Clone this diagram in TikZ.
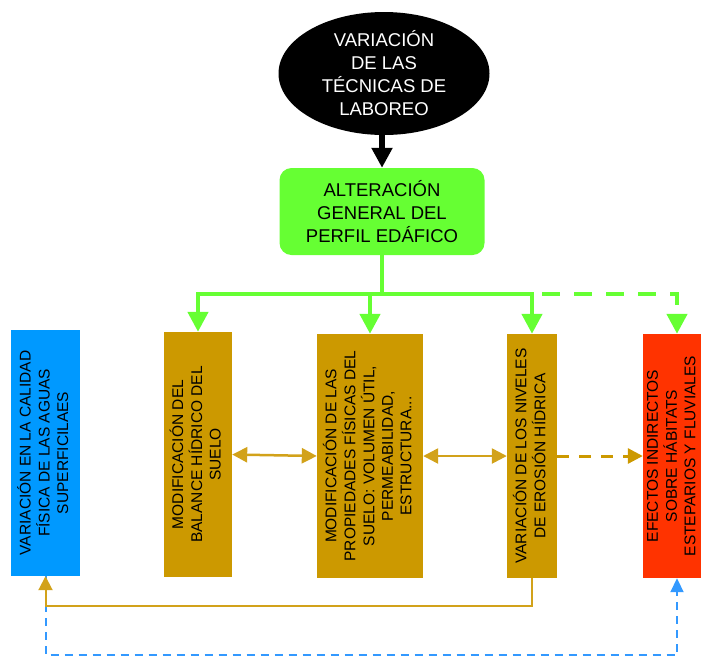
\documentclass[tikz,border=0pt]{standalone}
\usepackage{fontspec}
\setmainfont{Liberation Sans}
\usetikzlibrary{shapes.geometric,arrows.meta}

\definecolor{leaf}{HTML}{66FF33}
\definecolor{ochre}{HTML}{CC9900}
\definecolor{ochreline}{HTML}{D2A21A}
\definecolor{sky}{HTML}{0099FF}
\definecolor{skyline}{HTML}{3399FF}
\definecolor{flame}{HTML}{FF3300}

\tikzset{
  bigtxt/.style={font=\fontsize{18.5}{23}\selectfont, align=center},
  vbox/.style={inner sep=0pt, font=\fontsize{15.5}{18.5}\selectfont},
  gline/.style={draw=leaf, line width=4.5pt},
  gtip/.style={-{Triangle[width=20pt,length=20pt]}},
  bline/.style={draw=ochreline, line width=2.5pt},
  btip/.style={{Triangle[width=15pt,length=15pt]}-{Triangle[width=15pt,length=15pt]}},
  sline/.style={draw=skyline, line width=2pt, dash pattern=on 8pt off 6pt},
}

\newcommand{\vtext}[1]{\rotatebox{90}{\begin{tabular}{@{}c@{}}#1\end{tabular}}}

\begin{document}
\begin{tikzpicture}[x=1pt,y=-1pt]
  \clip (0,0) rectangle (701,657);

  % top of the chain
  \node[ellipse, fill=black, text=white, bigtxt, inner sep=0pt,
        minimum width=211pt, minimum height=123pt] (lab) at (384,73.5)
        {VARIACIÓN\\DE LAS\\TÉCNICAS DE\\LABOREO};
  \node[fill=leaf, rounded corners=12pt, bigtxt, inner sep=0pt,
        minimum width=205pt, minimum height=87pt] (alt) at (382,211.5)
        {ALTERACIÓN\\GENERAL DEL\\PERFIL EDÁFICO};

  % effect boxes
  \node[vbox, fill=sky, minimum width=69pt, minimum height=246pt] (agua) at (45.5,453)
        {\vtext{VARIACIÓN EN LA CALIDAD\\FÍSICA DE LAS AGUAS\\SUPERFICILAES}};
  \node[vbox, fill=ochre, minimum width=68pt, minimum height=245pt] (bal) at (198,454.5)
        {\vtext{MODIFICACIÓN DEL\\BALANCE HÍDRICO DEL\\SUELO}};
  \node[vbox, fill=ochre, minimum width=106pt, minimum height=244pt] (prop) at (370,456)
        {\vtext{MODIFICACIÓN DE LAS\\PROPIEDADES FÍSICAS DEL\\SUELO: VOLUMEN ÚTIL,\\PERMEABILIDAD,\\ESTRUCTURA...}};
  \node[vbox, fill=ochre, minimum width=50pt, minimum height=244pt] (ero) at (532,456)
        {\vtext{VARIACIÓN DE LOS NIVELES\\DE EROSIÓN HÍDRICA}};
  \node[vbox, fill=flame, minimum width=68pt, minimum height=244pt] (hab) at (677,456) {};
  \node[vbox] (habtxt) at (673,456)
        {\vtext{EFECTOS INDIRECTOS\\SOBRE HÁBITATS\\ESTEPARIOS Y FLUVIALES}};

  % black link
  \draw[line width=6pt, -{Triangle[width=20pt,length=20pt]}]
    (alt.north |- lab.south) -- (alt.north);

  % green distribution
  \coordinate (j) at (382,294);
  \draw[gline] (alt.south) -- (j);
  \draw[gline, gtip] (j) -| (bal.north);
  \draw[gline, gtip] (j) -| (ero.north);
  \draw[gline, gtip] (prop.north |- j) -- (prop.north);
  \draw[gline, dash pattern=on 18pt off 14pt, dash phase=-10pt, gtip]
    (ero.north |- j) -| (hab.north);

  % links between the ochre boxes
  \draw[bline, btip] (bal.east) -- (prop.west);
  \draw[bline, btip] (prop.east) -- (ero.west);
  \draw[draw=ochre, line width=3pt, dash pattern=on 12pt off 10pt,
        -{Triangle[width=15pt,length=15pt]}] (ero.east) -- (hab.west);

  % return links along the bottom
  \draw[sline, -{Triangle[width=13pt,length=14pt]}]
    (agua.south) -- ++(0,79) -| (hab.south);
  \draw[draw=ochreline, line width=2pt, -{Triangle[width=14pt,length=14pt]}]
    (ero.south) -- ++(0,28) -| (agua.south);
\end{tikzpicture}
\end{document}
